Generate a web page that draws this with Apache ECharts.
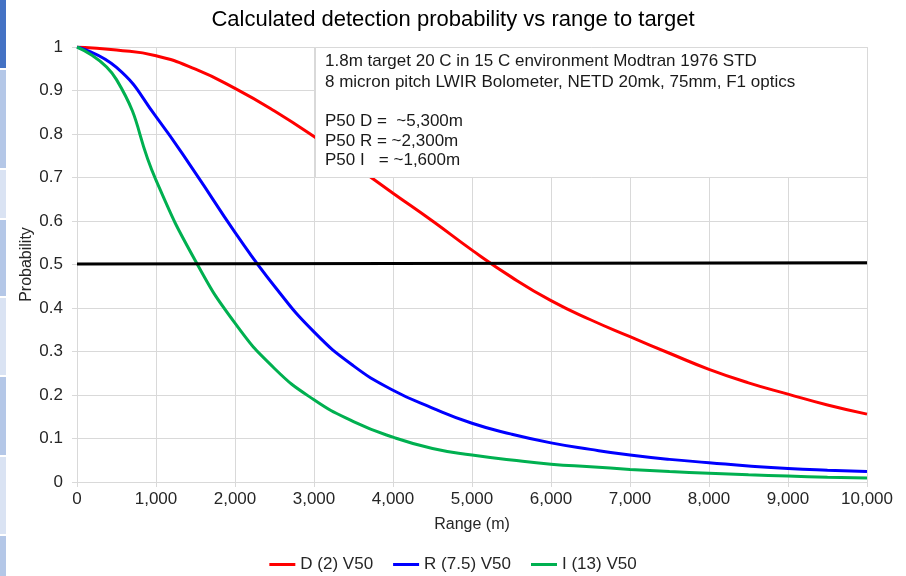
<!DOCTYPE html>
<html>
<head>
<meta charset="utf-8">
<script src="https://cdn.jsdelivr.net/npm/echarts@6/dist/echarts.min.js"></script>
<style>
html,body{margin:0;padding:0;background:#fff;}
#main{width:906px;height:576px;}
</style>
</head>
<body>
<div id="main"></div>
<script>
// ---- data ----
var ranges = [0, 500, 1000, 1500, 2000, 2500, 3000, 3500, 4000, 4500, 5000, 5500, 6000, 6500, 7000, 7500, 8000, 8500, 9000, 9500, 10000];
var detD = [1.0, 0.993, 0.980, 0.949, 0.905, 0.853, 0.794, 0.729, 0.664, 0.600, 0.533, 0.471, 0.417, 0.373, 0.334, 0.296, 0.259, 0.228, 0.202, 0.177, 0.156];
var detR = [1.0, 0.953, 0.840, 0.710, 0.574, 0.450, 0.345, 0.267, 0.211, 0.170, 0.135, 0.110, 0.090, 0.075, 0.062, 0.052, 0.0445, 0.037, 0.031, 0.027, 0.024];
var detI = [1.0, 0.925, 0.694, 0.508, 0.365, 0.261, 0.189, 0.139, 0.103, 0.077, 0.062, 0.0506, 0.041, 0.035, 0.029, 0.024, 0.020, 0.0165, 0.0138, 0.011, 0.009];
var p50Line = [[0, 0.501], [10000, 0.504]];
var seriesNames = ['D (2) V50', 'R (7.5) V50', 'I (13) V50'];
var annotationLines = [
  '1.8m target 20 C in 15 C environment Modtran 1976 STD',
  '8 micron pitch LWIR Bolometer, NETD 20mk, 75mm, F1 optics',
  '',
  'P50 D =  ~5,300m',
  'P50 R = ~2,300m',
  'P50 I   = ~1,600m'
];

function pairs(xs, ys) { return xs.map(function (x, i) { return [x, ys[i]]; }); }

var FONT = '"Liberation Sans", Arial, sans-serif';
var chart = echarts.init(document.getElementById('main'), null, {renderer: 'canvas'});

// decorative slide strip at the left edge
var strip = [[0, 68, '#4472C4'], [70, 168, '#B4C7E7'], [170, 218, '#DAE3F3'], [220, 296, '#B4C7E7'],
             [298, 375, '#DAE3F3'], [377, 455, '#B4C7E7'], [457, 534, '#DAE3F3'], [536, 576, '#B4C7E7']];
var graphics = strip.map(function (s) {
  return {type: 'rect', left: 0, top: s[0], shape: {width: 6, height: s[1] - s[0]}, style: {fill: s[2]}, silent: true};
});
graphics.push({
  type: 'rect', left: 315, top: 47, z: 100,
  shape: {width: 552, height: 130},
  style: {fill: '#fff', stroke: '#d9d9d9', lineWidth: 1}
});
var lineY = [63, 84, 103, 123, 143, 162];
annotationLines.forEach(function (t, i) {
  if (!t) return;
  graphics.push({
    type: 'text', left: 325, top: lineY[i] - 10, z: 101,
    style: {text: t, font: '17px ' + FONT, fill: '#1a1a1a'}
  });
});

var colors = ['#FF0000', '#0000FF', '#00B050'];
var dataSets = [detD, detR, detI];
var series = dataSets.map(function (d, i) {
  return {
    name: seriesNames[i], type: 'line', data: pairs(ranges, d),
    smooth: 0.5, showSymbol: false, symbol: 'none',
    lineStyle: {color: colors[i], width: 3}, itemStyle: {color: colors[i]}, z: 3
  };
});
series.push({
  name: 'P50', type: 'line', data: p50Line, showSymbol: false, symbol: 'none',
  lineStyle: {color: '#000', width: 3}, itemStyle: {color: '#000'}, z: 4
});

chart.setOption({
  animation: false,
  textStyle: {fontFamily: FONT},
  title: {
    text: 'Calculated detection probability vs range to target',
    left: 'center', top: 4,
    textStyle: {fontSize: 22, fontWeight: 'normal', color: '#000', fontFamily: FONT}
  },
  legend: {
    data: seriesNames, top: 551, left: 'center',
    icon: 'rect', itemWidth: 26, itemHeight: 3, itemGap: 20,
    textStyle: {fontSize: 17, color: '#262626', fontFamily: FONT}
  },
  grid: {left: 77, right: 39, top: 47, bottom: 94, containLabel: false},
  xAxis: {
    type: 'value', min: 0, max: 10000, interval: 1000,
    name: 'Range (m)', nameLocation: 'middle', nameGap: 35, nameMoveOverlap: false,
    nameTextStyle: {fontSize: 16, color: '#262626', fontFamily: FONT},
    axisLine: {show: true, lineStyle: {color: '#d9d9d9', width: 1}},
    axisTick: {show: true, length: 5, lineStyle: {color: '#d9d9d9'}},
    axisLabel: {fontSize: 17, color: '#262626', margin: 9, fontFamily: FONT,
      formatter: function (v) { return v.toLocaleString('en-US'); }},
    splitLine: {show: true, lineStyle: {color: '#d9d9d9', width: 1}}
  },
  yAxis: {
    type: 'value', min: 0, max: 1, interval: 0.1,
    name: 'Probability', nameLocation: 'middle', nameGap: 42, nameRotate: 90, nameMoveOverlap: false,
    nameTextStyle: {fontSize: 16, color: '#262626', fontFamily: FONT},
    axisLine: {show: true, lineStyle: {color: '#d9d9d9', width: 1}},
    axisTick: {show: true, length: 5, lineStyle: {color: '#d9d9d9'}},
    axisLabel: {fontSize: 17, color: '#262626', margin: 14, fontFamily: FONT,
      formatter: function (v) { return String(+v.toFixed(1)); }},
    splitLine: {show: true, lineStyle: {color: '#d9d9d9', width: 1}}
  },
  series: series,
  graphic: graphics
});
</script>
</body>
</html>
